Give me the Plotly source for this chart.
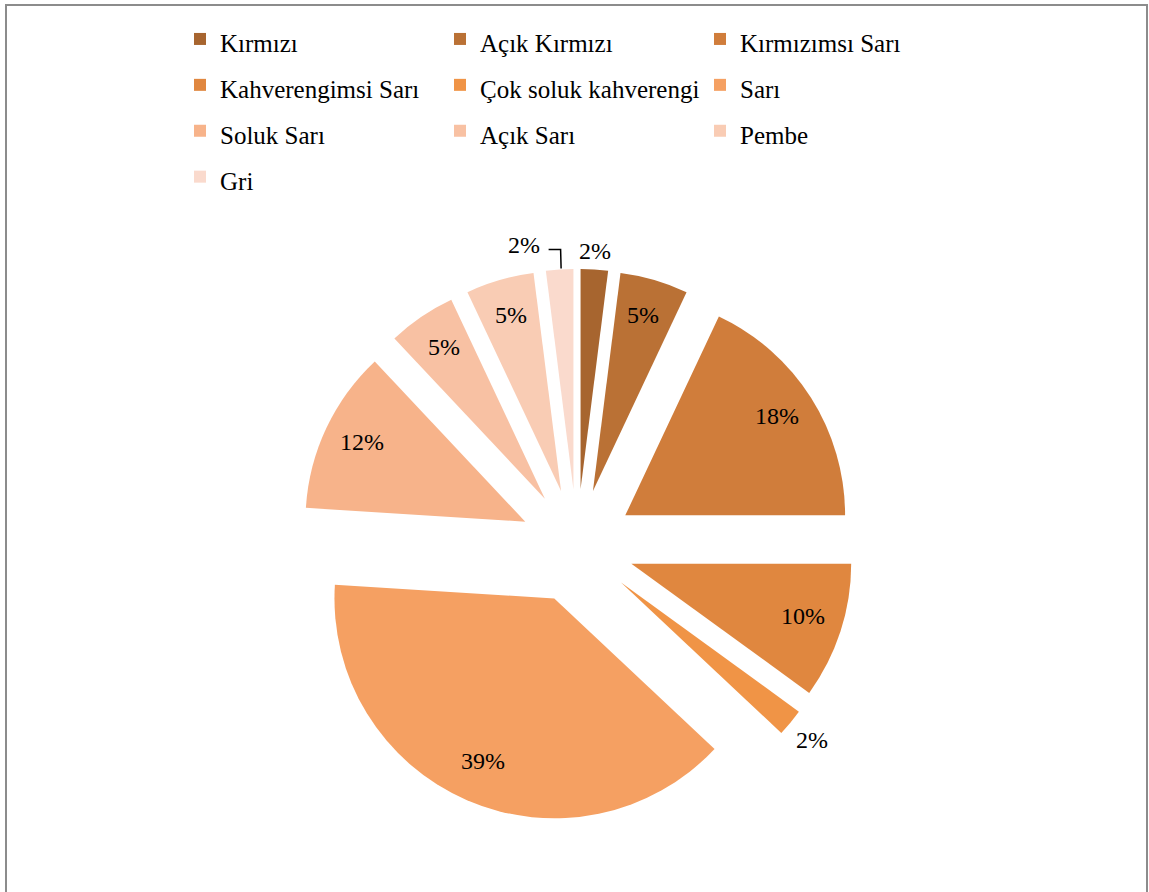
import math
import plotly.graph_objects as go

labels = ["Kırmızı", "Açık Kırmızı", "Kırmızımsı Sarı", "Kahverengimsi Sarı",
          "Çok soluk kahverengi", "Sarı", "Soluk Sarı", "Açık Sarı", "Pembe", "Gri"]
values = [2, 5, 18, 10, 2, 39, 12, 5, 5, 2]
colors = ["#A7652F", "#BA7135", "#D07D3B", "#E0873F", "#F09446",
          "#F5A062", "#F7B38A", "#F8C1A3", "#F9CCB4", "#FADACD"]
label_modes = ["outside", "inside", "inside", "inside", "outside",
               "inside", "inside", "inside", "inside", "callout"]

W, H = 1149, 892
ML, MR = 100, 150
PW = W - ML - MR
FONT = "Liberation Serif, Times New Roman, serif"

# pie geometry (pixels)
CX, CY = 577, 546
R_BOX = 277
PULL = 0.26
R = R_BOX / (1 + PULL)


def to_paper(px, py):
    return (px - ML) / PW, 1 - py / H


legend_labels = [f"<span style='font-size:25px'>{l}</span>" for l in labels]

fig = go.Figure(go.Pie(
    labels=legend_labels,
    values=values,
    sort=False,
    direction="clockwise",
    rotation=0,
    pull=[PULL] * len(values),
    marker=dict(colors=colors, line=dict(width=0)),
    textinfo="none",
    hoverinfo="percent",
    domain=dict(x=[(CX - R_BOX - ML) / PW, (CX + R_BOX - ML) / PW],
                y=[(H - CY - R_BOX) / H, (H - CY + R_BOX) / H]),
))

# percentage labels, positioned from the data (slice mid-angles)
total = sum(values)
annotations = []
shapes = []
cum = 0
for v, mode in zip(values, label_modes):
    mid = (cum + v / 2) / total
    cum += v
    th = 2 * math.pi * mid
    dx, dy = math.sin(th), -math.cos(th)
    vx, vy = CX + PULL * R * dx, CY + PULL * R * dy
    txt = f"{round(100 * v / total)}%"
    if mode == "inside":
        px, py = vx + 0.82 * R * dx, vy + 0.82 * R * dy - 3
        xa, ya = "center", "middle"
    elif mode == "outside":
        ox, oy = vx + R * dx, vy + R * dy
        px, py = ox + 4 * dx, oy + 4 * dy
        xa = "left" if dx > 0.3 else ("right" if dx < -0.3 else "center")
        ya = "top" if dy > 0.3 else ("bottom" if dy < -0.3 else "middle")
    else:  # callout with elbow leader line
        ox, oy = vx + R * dx, vy + R * dy
        px, py = ox - 18, oy - 25
        xa, ya = "right", "middle"
        p0 = to_paper(ox - 11, oy - 20)
        p1 = to_paper(ox + 1, oy - 20)
        p2 = to_paper(ox + 1.5, oy - 1)
        shapes.append(dict(type="path", xref="paper", yref="paper",
                           path=f"M {p0[0]},{p0[1]} L {p1[0]},{p1[1]} L {p2[0]},{p2[1]}",
                           line=dict(color="#000000", width=1.5)))
    ax, ay = to_paper(px, py)
    annotations.append(dict(x=ax, y=ay, xref="paper", yref="paper", text=txt,
                            showarrow=False, xanchor=xa, yanchor=ya,
                            font=dict(family=FONT, size=24, color="#000000")))

shapes.append(dict(type="rect", xref="paper", yref="paper",
                   x0=(6 - ML) / PW, x1=(1147 - ML) / PW, y0=-0.05, y1=1 - 5 / H,
                   line=dict(color="#8C8C8C", width=2)))

fig.update_layout(
    width=W, height=H,
    margin=dict(l=ML, r=MR, t=0, b=0, autoexpand=False),
    paper_bgcolor="white",
    plot_bgcolor="white",
    font=dict(family=FONT, size=24, color="#000000"),
    legend=dict(
        orientation="h",
        x=(180 - ML) / PW, y=1 - 11 / H, xanchor="left", yanchor="top",
        entrywidth=215, entrywidthmode="pixels",
        font=dict(family=FONT, size=33, color="#000000"),
        bgcolor="rgba(0,0,0,0)",
    ),
    annotations=annotations,
    shapes=shapes,
)

fig.write_html("out.html", config={"displayModeBar": False},
               post_script="document.body.style.margin='0';")
